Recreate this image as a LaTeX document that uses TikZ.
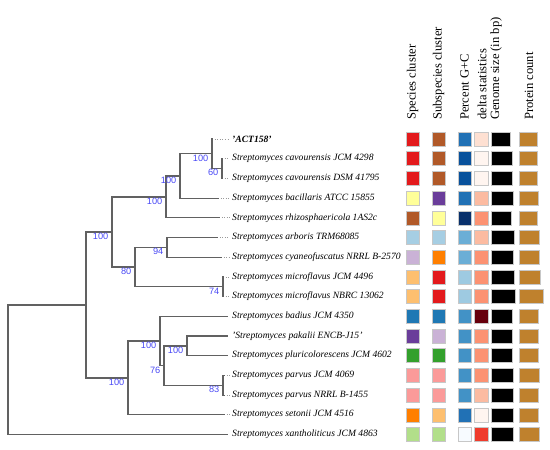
\documentclass[tikz,border=0pt]{standalone}
\usepackage{fontspec}
\setmainfont{Liberation Serif}
\newfontfamily\labfont{Liberation Sans}
\definecolor{bootblue}{HTML}{4A4AF5}
\definecolor{cRed}{HTML}{E31A1C}
\definecolor{cSienna}{HTML}{B15928}
\definecolor{cYel}{HTML}{FFFF99}
\definecolor{cPur}{HTML}{6A3D9A}
\definecolor{cLBlue}{HTML}{A6CEE3}
\definecolor{cLav}{HTML}{CAB2D6}
\definecolor{cOra}{HTML}{FF7F00}
\definecolor{cLOra}{HTML}{FDBF6F}
\definecolor{cBlue}{HTML}{1F78B4}
\definecolor{cGreen}{HTML}{33A02C}
\definecolor{cPink}{HTML}{FB9A99}
\definecolor{cLGreen}{HTML}{B2DF8A}
\definecolor{gA}{HTML}{2171B5}
\definecolor{gB}{HTML}{08519C}
\definecolor{gC}{HTML}{08306B}
\definecolor{gD}{HTML}{6BAED6}
\definecolor{gE}{HTML}{9ECAE1}
\definecolor{gF}{HTML}{4292C6}
\definecolor{gG}{HTML}{F7FBFF}
\definecolor{dA}{HTML}{FEE0D2}
\definecolor{dB}{HTML}{FFF5F0}
\definecolor{dC}{HTML}{FCBBA1}
\definecolor{dD}{HTML}{FC9272}
\definecolor{dE}{HTML}{67000D}
\definecolor{dF}{HTML}{EF3B2C}
\definecolor{pBrown}{HTML}{BF812D}
\begin{document}
\begin{tikzpicture}[x=1pt,y=-1pt,
  branch/.style={draw=black!62, line width=1.2pt},
  leader/.style={draw=black!40, line width=0.7pt, dash pattern=on 0.8pt off 1.8pt},
  taxon/.style={anchor=west, inner sep=0pt, font=\fontsize{9.6}{10}\selectfont\itshape},
  boot/.style={anchor=north east, inner sep=0pt, font=\labfont\fontsize{9.2}{10}\selectfont, text=bootblue},
  head/.style={rotate=90, anchor=west, inner sep=0pt, font=\fontsize{12.6}{13}\selectfont},
  cell/.style={draw=black!22, line width=0.5pt}
]
\useasboundingbox (0,0) rectangle (550,450);

% internal nodes
\coordinate (R) at (8,369.7);
\coordinate (A) at (86,305);
\coordinate (B) at (112,232);
\coordinate (C) at (166,197);
\coordinate (F) at (180,176);
\coordinate (G) at (212,153.8);
\coordinate (H) at (222,168.5);
\coordinate (D) at (135,267);
\coordinate (N) at (167,247.3);
\coordinate (I) at (223,286.7);
\coordinate (E) at (128,377.9);
\coordinate (J) at (160,341);
\coordinate (K) at (164,365.6);
\coordinate (L) at (187,345.9);
\coordinate (M) at (223,385.2);

% leaf tips
\coordinate (l1) at (213,139);
\coordinate (l2) at (223,158.7);
\coordinate (l3) at (223,178.4);
\coordinate (l4) at (219,198.1);
\coordinate (l5) at (220,217.8);
\coordinate (l6) at (218,237.5);
\coordinate (l7) at (222,257.2);
\coordinate (l8) at (224,276.9);
\coordinate (l9) at (224,296.6);
\coordinate (l10) at (228,316.3);
\coordinate (l11) at (228,336);
\coordinate (l12) at (228,355.7);
\coordinate (l13) at (225,375.4);
\coordinate (l14) at (225,395.1);
\coordinate (l15) at (225,414.8);
\coordinate (l16) at (228,434.5);

% taxa
\node[taxon] (t1) at (232,139) {\bfseries 'ACT158'};
\node[taxon] (t2) at (232,158.7) {Streptomyces cavourensis JCM 4298};
\node[taxon] (t3) at (232,178.4) {Streptomyces cavourensis DSM 41795};
\node[taxon] (t4) at (232,198.1) {Streptomyces bacillaris ATCC 15855};
\node[taxon] (t5) at (232,217.8) {Streptomyces rhizosphaericola 1AS2c};
\node[taxon] (t6) at (232,237.5) {Streptomyces arboris TRM68085};
\node[taxon] (t7) at (232,257.2) {Streptomyces cyaneofuscatus NRRL B-2570};
\node[taxon] (t8) at (232,276.9) {Streptomyces microflavus JCM 4496};
\node[taxon] (t9) at (232,296.6) {Streptomyces microflavus NBRC 13062};
\node[taxon] (t10) at (232,316.3) {Streptomyces badius JCM 4350};
\node[taxon] (t11) at (232,336) {'Streptomyces pakalii ENCB-J15'};
\node[taxon] (t12) at (232,355.7) {Streptomyces pluricolorescens JCM 4602};
\node[taxon] (t13) at (232,375.4) {Streptomyces parvus JCM 4069};
\node[taxon] (t14) at (232,395.1) {Streptomyces parvus NRRL B-1455};
\node[taxon] (t15) at (232,414.8) {Streptomyces setonii JCM 4516};
\node[taxon] (t16) at (232,434.5) {Streptomyces xantholiticus JCM 4863};

% branches
\draw[branch] (R) |- (A);
\draw[branch] (R) |- (l16);
\draw[branch] (A) |- (B);
\draw[branch] (A) |- (E);
\draw[branch] (B) |- (C);
\draw[branch] (B) |- (D);
\draw[branch] (C) |- (F);
\draw[branch] (C) |- (l5);
\draw[branch] (F) |- (G);
\draw[branch] (F) |- (l4);
\draw[branch] (G) |- (l1);
\draw[branch] (G) |- (H);
\draw[branch] (H) |- (l2);
\draw[branch] (H) |- (l3);
\draw[branch] (D) |- (N);
\draw[branch] (D) |- (I);
\draw[branch] (N) |- (l6);
\draw[branch] (N) |- (l7);
\draw[branch] (I) |- (l8);
\draw[branch] (I) |- (l9);
\draw[branch] (E) |- (J);
\draw[branch] (E) |- (l15);
\draw[branch] (J) |- (l10);
\draw[branch] (J) |- (K);
\draw[branch] (K) |- (L);
\draw[branch] (K) |- (M);
\draw[branch] (L) |- (l11);
\draw[branch] (L) |- (l12);
\draw[branch] (M) |- (l13);
\draw[branch] (M) |- (l14);

% dotted leaders
\foreach \k in {1,...,9,13,14,15}{
  \draw[leader, shorten <=1.5pt, shorten >=2.5pt] (l\k) -- (t\k.west);
}

% bootstrap values
\foreach \n/\v in {B/100,C/100,F/100,G/100,H/60,D/80,N/94,I/74,E/100,J/100,K/76,L/100,M/83}{
  \node[boot] (b\n) at ([shift={(-3.5,0.8)}]\n) {\v};
}

% headers
\node[head] (h1) at (412.5,120) {Species cluster};
\node[head] (h2) at (438.5,120) {Subspecies cluster};
\node[head] (h3) at (464.5,120) {Percent G+C};
\node[head] (h4) at (482,120) {delta statistics};
\node[head] (h5) at (496,120) {Genome size (in bp)};
\node[head] (h6) at (529,120) {Protein count};

% data cells
\foreach \i/\a/\b/\c/\d/\g/\p in {
 1/cRed/cSienna/gA/dA/510/537,
 2/cRed/cSienna/gB/dB/512/537,
 3/cRed/cSienna/gB/dB/512/537,
 4/cYel/cPur/gA/dC/513/538,
 5/cSienna/cYel/gC/dD/511/537,
 6/cLBlue/cLBlue/gD/dC/514/539,
 7/cLav/cOra/gD/dD/513/539,
 8/cLOra/cRed/gE/dD/514/540,
 9/cLOra/cRed/gE/dD/515/543,
 10/cBlue/cBlue/gF/dE/512/538,
 11/cPur/cLav/gF/dD/512/538,
 12/cGreen/cGreen/gF/dD/512/538,
 13/cPink/cPink/gF/dD/513/539,
 14/cPink/cPink/gF/dC/513/538,
 15/cOra/cLOra/gA/dB/513/538,
 16/cLGreen/cLGreen/gG/dF/513/539}{
  \pgfmathsetmacro{\yy}{139+(\i-1)*19.7}
  \fill[\a, cell] (406,\yy-7) rectangle (419,\yy+7);
  \fill[\b, cell] (432,\yy-7) rectangle (445,\yy+7);
  \fill[\c, cell] (458,\yy-7) rectangle (471,\yy+7);
  \fill[\d, cell] (474.5,\yy-7) rectangle (488,\yy+7);
  \fill[black, cell] (491,\yy-7) rectangle (\g,\yy+7);
  \fill[pBrown, cell] (519,\yy-7) rectangle (\p,\yy+7);
}
\end{tikzpicture}
\end{document}
